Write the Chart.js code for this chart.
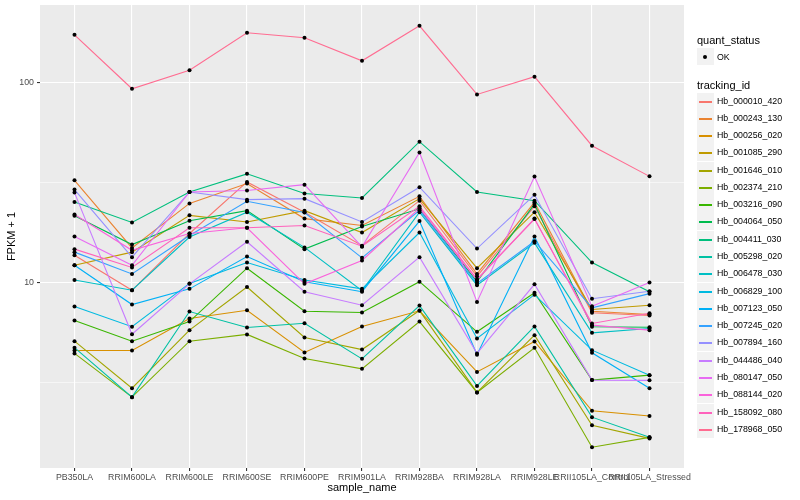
<!DOCTYPE html>
<html>
<head>
<meta charset="utf-8">
<script src="https://cdn.jsdelivr.net/npm/chart.js@4.4.0/dist/chart.umd.min.js"></script>
<style>
  html, body { margin: 0; padding: 0; background: #fff; }
  #wrap { position: relative; width: 800px; height: 500px; font-family: "Liberation Sans", Arial, sans-serif; }
  #chart { position: absolute; left: 0; top: 0; }
  .lg { position: absolute; white-space: nowrap; }
  .lg-title { font-size: 11px; line-height: 13px; color: #000; }
  .lg-text { font-size: 8.8px; line-height: 11px; color: #000; }
  .lg-key { background: #f2f2f2; width: 17px; height: 17px; }
</style>
</head>
<body>
<div id="wrap">
  <canvas id="chart" width="800" height="500"></canvas>
  <div id="legend"></div>
</div>
<script>
const samples = ["PB350LA", "RRIM600LA", "RRIM600LE", "RRIM600SE", "RRIM600PE", "RRIM901LA",
  "RRIM928BA", "RRIM928LA", "RRIM928LE", "RRII105LA_Control", "RRII105LA_Stressed"];

const trackingIds = ["Hb_000010_420", "Hb_000243_130", "Hb_000256_020", "Hb_001085_290", "Hb_001646_010",
  "Hb_002374_210", "Hb_003216_090", "Hb_004064_050", "Hb_004411_030", "Hb_005298_020",
  "Hb_006478_030", "Hb_006829_100", "Hb_007123_050", "Hb_007245_020", "Hb_007894_160",
  "Hb_044486_040", "Hb_080147_050", "Hb_088144_020", "Hb_158092_080", "Hb_178968_050"];

// FPKM + 1, one value per sample
const hb_000010_420 = [13.7, 9.15, 17.6, 31.9, 22.5, 15.3, 25.7, 10.75, 24.1, 7.06, 6.84];
const hb_000243_130 = [32.5, 14.9, 24.9, 31.3, 20.9, 19.3, 27.0, 11.05, 25.2, 7.19, 6.92];
const hb_000256_020 = [4.57, 4.57, 6.61, 7.27, 4.47, 6.03, 7.22, 3.57, 5.07, 2.28, 2.15];
const hb_001085_290 = [12.2, 14.2, 21.7, 20.1, 22.9, 17.8, 26.3, 11.8, 22.5, 7.33, 7.7];
const hb_001646_010 = [5.09, 2.96, 5.78, 9.5, 5.31, 4.62, 7.24, 2.82, 5.45, 1.93, 1.66];
const hb_002374_210 = [4.42, 2.67, 5.09, 5.5, 4.17, 3.7, 6.38, 2.82, 4.72, 1.5, 1.68];
const hb_003216_090 = [6.46, 5.09, 6.38, 11.8, 7.19, 7.08, 10.1, 5.67, 8.9, 3.25, 3.44];
const hb_004064_050 = [21.6, 15.5, 20.4, 22.9, 14.7, 19.1, 23.4, 10.1, 24.7, 6.01, 5.98];
const hb_004411_030 = [25.3, 20.0, 28.4, 35.0, 27.9, 26.5, 50.7, 28.4, 25.7, 12.6, 9.0];
const hb_005298_020 = [4.72, 2.67, 7.16, 5.96, 6.26, 4.15, 7.67, 3.04, 6.03, 2.12, 1.68];
const hb_006478_030 = [10.3, 9.15, 16.9, 22.5, 15.0, 9.1, 22.5, 9.7, 15.8, 5.6, 5.89];
const hb_006829_100 = [7.59, 6.01, 9.9, 12.6, 10.3, 9.3, 17.8, 5.25, 8.7, 4.59, 3.44];
const hb_007123_050 = [12.2, 7.76, 9.3, 13.5, 10.1, 9.0, 20.3, 4.35, 17.0, 4.45, 2.96];
const hb_007245_020 = [14.2, 11.05, 17.2, 25.5, 22.4, 13.3, 23.0, 9.9, 16.1, 7.47, 8.8];
const hb_007894_160 = [29.2, 13.4, 28.4, 26.0, 26.3, 20.1, 30.0, 14.8, 27.5, 8.3, 9.05];
const hb_044486_040 = [28.2, 5.51, 9.85, 16.0, 9.0, 7.7, 13.4, 4.42, 9.8, 3.25, 3.24];
const hb_080147_050 = [17.0, 12.2, 28.4, 28.9, 30.9, 15.1, 44.8, 8.0, 33.9, 7.6, 10.0];
const hb_088144_020 = [21.9, 14.5, 17.6, 18.8, 9.85, 12.9, 23.6, 10.3, 20.9, 6.12, 5.78];
const hb_158092_080 = [14.7, 11.9, 18.8, 18.8, 19.3, 15.2, 24.1, 10.4, 20.8, 6.24, 7.02];
const hb_178968_050 = [173.8, 93.3, 115.5, 177.8, 167.9, 128.8, 192.8, 87.4, 107.2, 48.4, 34.0];

const yBreaks = [10, 100];
const yMinorBreaks = [3.162, 31.62];
const yLimits = [1.18, 245];

const seriesValues = [hb_000010_420, hb_000243_130, hb_000256_020, hb_001085_290, hb_001646_010,
  hb_002374_210, hb_003216_090, hb_004064_050, hb_004411_030, hb_005298_020,
  hb_006478_030, hb_006829_100, hb_007123_050, hb_007245_020, hb_007894_160,
  hb_044486_040, hb_080147_050, hb_088144_020, hb_158092_080, hb_178968_050];

const colours = ["#F8766D", "#EA8331", "#D89000", "#C09B00", "#A3A500", "#7CAE00", "#39B600",
  "#00BB4E", "#00BF7D", "#00C1A3", "#00BFC4", "#00BAE0", "#00B0F6", "#35A2FF", "#9590FF",
  "#C77CFF", "#E76BF3", "#FA62DB", "#FF62BC", "#FF6C91"];

const FONT = "'Liberation Sans', Arial, sans-serif";

const lineSets = seriesValues.map((vals, i) => ({
  label: trackingIds[i],
  data: vals.map((v, j) => ({ x: j, y: v })),
  borderColor: colours[i],
  borderWidth: 1.1,
  pointRadius: 0,
  fill: false,
  tension: 0,
  order: 100 - i
}));

const pointSet = {
  label: "OK",
  data: seriesValues.flatMap(vals => vals.map((v, j) => ({ x: j, y: v }))),
  showLine: false,
  pointRadius: 2,
  pointBackgroundColor: "#000",
  pointBorderWidth: 0,
  order: -1
};

const panelBg = {
  id: "panelBg",
  beforeDraw(chart) {
    const { ctx, chartArea: a } = chart;
    ctx.save();
    ctx.fillStyle = "#ebebeb";
    ctx.fillRect(a.left, a.top, a.right - a.left, a.bottom - a.top);
    ctx.restore();
  }
};

const isMajor = ctx => ctx.tick && yBreaks.includes(ctx.tick.value);

new Chart(document.getElementById("chart"), {
  type: "line",
  data: { datasets: [...lineSets, pointSet] },
  plugins: [panelBg],
  options: {
    responsive: false,
    animation: false,
    layout: { padding: { left: 0, top: 5, right: 116, bottom: 0 } },
    plugins: { legend: { display: false }, tooltip: { enabled: false } },
    scales: {
      x: {
        type: "linear",
        min: -0.6,
        max: 10.6,
        afterBuildTicks: s => { s.ticks = samples.map((_, i) => ({ value: i })); },
        afterFit: s => { s.height = 32; s.paddingLeft = 0; s.paddingRight = 0; },
        border: { display: false },
        grid: { color: "#ffffff", lineWidth: 1.1, tickLength: 3, tickColor: "#333333" },
        ticks: {
          callback: v => samples[v],
          autoSkip: false, maxRotation: 0, minRotation: 0,
          color: "#4d4d4d", font: { size: 8.8, family: FONT }, padding: 1
        },
        title: {
          display: true, text: "sample_name", color: "#000",
          font: { size: 11, family: FONT }, padding: { top: 0, bottom: 5 }
        }
      },
      y: {
        type: "logarithmic",
        min: yLimits[0],
        max: yLimits[1],
        afterBuildTicks: s => {
          s.ticks = [...yMinorBreaks, ...yBreaks].sort((a, b) => a - b).map(v => ({ value: v }));
        },
        afterFit: s => { s.width = 40; s.paddingTop = 0; s.paddingBottom = 0; },
        border: { display: false },
        grid: {
          color: "#ffffff",
          lineWidth: ctx => isMajor(ctx) ? 1.1 : 0.55,
          tickLength: 3,
          tickColor: ctx => isMajor(ctx) ? "#333333" : "rgba(0,0,0,0)"
        },
        ticks: {
          callback: v => yBreaks.includes(v) ? String(v) : "",
          color: "#4d4d4d", font: { size: 8.8, family: FONT }, padding: 3
        },
        title: {
          display: true, text: "FPKM + 1", color: "#000",
          font: { size: 11, family: FONT }, padding: { top: 5, bottom: 0 }
        }
      }
    }
  }
});

// ggplot-like legend on the right
const legend = document.getElementById("legend");
function addEl(cls, left, top, text, extra) {
  const el = document.createElement("div");
  el.className = "lg " + cls;
  el.style.left = left + "px";
  el.style.top = top + "px";
  if (text) el.textContent = text;
  if (extra) Object.assign(el.style, extra);
  legend.appendChild(el);
  return el;
}

addEl("lg-title", 697, 34, "quant_status");
addEl("lg-key", 697, 48);
addEl("", 703, 55, "", { width: "4px", height: "4px", borderRadius: "50%", background: "#000" });
addEl("lg-text", 717, 51.5, "OK");

addEl("lg-title", 697, 78.5, "tracking_id");
trackingIds.forEach((id, i) => {
  const top = Math.round(92.5 + i * 17.28);
  addEl("lg-key", 697, top);
  addEl("", 699, top + 8, "", { width: "13px", height: "1.5px", background: colours[i] });
  addEl("lg-text", 717, top + 3, id);
});
</script>
</body>
</html>
